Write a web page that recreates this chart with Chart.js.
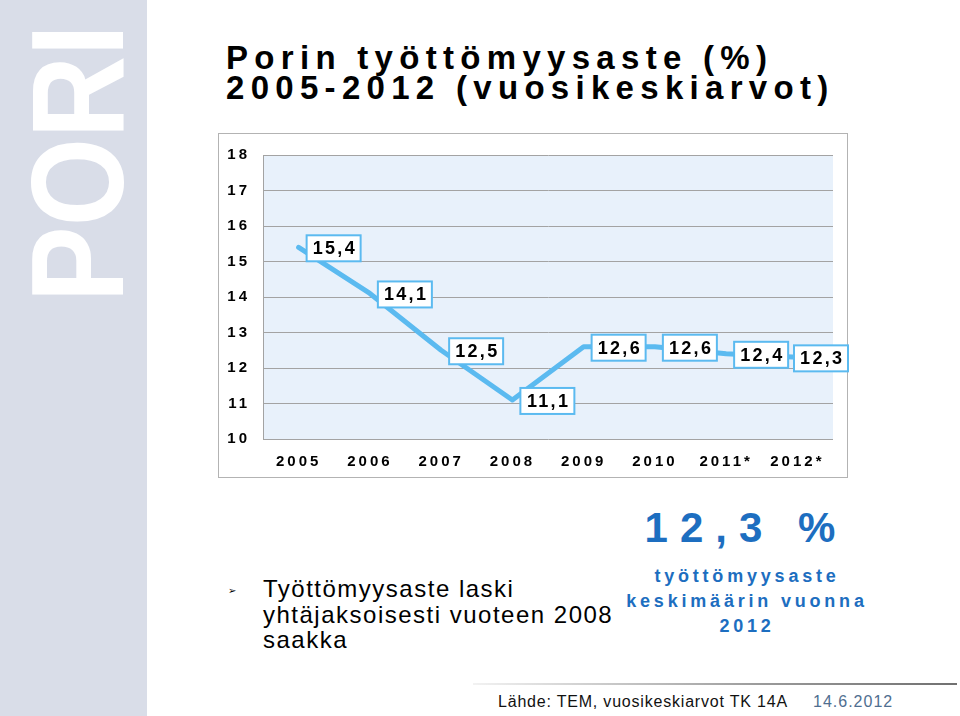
<!DOCTYPE html>
<html>
<head>
<meta charset="utf-8">
<script src="https://cdn.jsdelivr.net/npm/chart.js@4/dist/chart.umd.min.js"></script>
<style>
  html, body { margin:0; padding:0; background:#fff; }
  body { width:960px; height:716px; position:relative; overflow:hidden; font-family:"Liberation Sans", Arial, sans-serif; }
  #band { position:absolute; left:0; top:0; width:147px; height:716px; background:#d9dde8; }
  #pori { position:absolute; left:12px; top:302px; transform-origin:0 0; transform:rotate(-90deg) scaleX(0.86);
          font:bold 132px/132px "Liberation Sans", Arial, sans-serif; color:#fff; white-space:nowrap; }
  #title { position:absolute; left:226px; top:42.6px; font:bold 33px/30px "Liberation Sans", Arial, sans-serif;
           letter-spacing:6.3px; color:#000; white-space:nowrap; }
  #frame { position:absolute; left:218px; top:133px; width:630px; height:345px; box-sizing:border-box;
           border:1px solid #b3b3b3; background:#fff; }
  #chartWrap { position:absolute; left:218px; top:133px; width:631px; height:346px; }
  #bullet { position:absolute; left:228px; top:585px; font:10px "DejaVu Sans", sans-serif; color:#000; }
  #btext { position:absolute; left:263px; top:576px; font:24px/25.5px "Liberation Sans", Arial, sans-serif;
           letter-spacing:1.5px; color:#000; white-space:nowrap; }
  .blue { position:absolute; width:300px; left:597px; text-align:center; color:#1d6ec0; font-weight:bold;
          font-family:"Liberation Sans", Arial, sans-serif; white-space:nowrap; }
  #big { top:507px; font-size:42px; line-height:42px; letter-spacing:12px; left:596px; }
  .sub { font-size:18px; line-height:18px; letter-spacing:3.8px; }
  #rule { position:absolute; left:473px; top:683px; width:484px; height:2px;
          background:linear-gradient(to right, #f2f2f2, #9a9a9a 60%, #707070); }
  #src { position:absolute; left:498px; top:693.5px; font:16px/16px "Liberation Sans", Arial, sans-serif;
         letter-spacing:0.8px; color:#111; white-space:nowrap; }
  #date { position:absolute; left:813px; top:693.5px; font:16px/16px "Liberation Sans", Arial, sans-serif;
          letter-spacing:1px; color:#4f6e90; white-space:nowrap; }
</style>
</head>
<body>
<div id="band"></div>
<div id="pori">PORI</div>
<div id="title">Porin työttömyysaste (%)<br>2005-2012 (vuosikeskiarvot)</div>
<div id="frame"></div>
<div id="chartWrap"><canvas id="c" width="631" height="346"></canvas></div>
<div id="bullet">➢</div>
<div id="btext">Työttömyysaste laski<br>yhtäjaksoisesti vuoteen 2008<br>saakka</div>
<div class="blue" id="big">12,3 %</div>
<div class="blue sub" style="top:566.5px;">työttömyysaste</div>
<div class="blue sub" style="top:592px;">keskimäärin vuonna</div>
<div class="blue sub" style="top:616.5px;">2012</div>
<div id="rule"></div>
<div id="src">Lähde: TEM, vuosikeskiarvot TK 14A</div>
<div id="date">14.6.2012</div>
<script>
// ---- data ----
const years = ['2005', '2006', '2007', '2008', '2009', '2010', '2011*', '2012*'];
const rates = [15.4, 14.1, 12.5, 11.1, 12.6, 12.6, 12.4, 12.3];
const yMin = 10;
const yMax = 18;
const yStep = 1;

const LINE = '#5bbaf0';
const FONT = '"Liberation Sans", Arial, sans-serif';

const spacingPlugin = {
  id: 'spacing',
  beforeInit(chart) { chart.ctx.letterSpacing = '3px'; },
  beforeUpdate(chart) { chart.ctx.letterSpacing = '3px'; },
  beforeDraw(chart) {
    chart.ctx.letterSpacing = '3px';
    const a = chart.chartArea, ctx = chart.ctx;
    ctx.save();
    ctx.fillStyle = '#e8f1fb';
    ctx.fillRect(a.left, a.top, a.right - a.left, a.bottom - a.top);
    ctx.restore();
  }
};

const labelPlugin = {
  id: 'boxLabels',
  afterDatasetsDraw(chart) {
    const ctx = chart.ctx;
    const meta = chart.getDatasetMeta(0);
    const w = 54, h = 26;
    ctx.save();
    ctx.font = 'bold 18px ' + FONT;
    ctx.letterSpacing = '2.3px';
    ctx.textAlign = 'center';
    ctx.textBaseline = 'middle';
    meta.data.forEach((pt, i) => {
      let left = pt.x + 8;
      if (left + w > chart.width - 1) left = chart.width - 1 - w;
      const top = pt.y + 1 - h / 2;
      ctx.fillStyle = '#fff';
      ctx.fillRect(left, top, w, h);
      ctx.strokeStyle = LINE;
      ctx.lineWidth = 2;
      ctx.strokeRect(left, top, w, h);
      ctx.fillStyle = '#000';
      const txt = rates[i].toFixed(1).replace('.', ',');
      ctx.fillText(txt, left + w / 2 + 1.2, top + h / 2 + 1);
    });
    ctx.restore();
  }
};

new Chart(document.getElementById('c'), {
  type: 'line',
  data: {
    labels: years,
    datasets: [{
      data: rates,
      borderColor: LINE,
      borderWidth: 5,
      borderCapStyle: 'round',
      borderJoinStyle: 'round',
      pointRadius: 0,
      pointHoverRadius: 0,
      tension: 0,
      fill: false
    }]
  },
  options: {
    responsive: false,
    animation: false,
    events: [],
    layout: { padding: { top: 16, right: 16, left: 0, bottom: 0 } },
    plugins: { legend: { display: false }, tooltip: { enabled: false }, title: { display: false } },
    scales: {
      x: {
        offset: true,
        grid: { display: false, drawTicks: false },
        border: { display: false },
        ticks: { color: '#000', font: { family: FONT, size: 15, weight: 'bold' }, padding: 14, maxRotation: 0, autoSkip: false },
        afterFit(s) { s.height = 40; }
      },
      y: {
        min: yMin, max: yMax,
        grid: { color: '#a3a3a3', lineWidth: 1, drawTicks: false },
        border: { display: true, color: '#a3a3a3', width: 1 },
        ticks: { stepSize: yStep, color: '#000', font: { family: FONT, size: 15, weight: 'bold' }, padding: 13 },
        afterFit(s) { s.width = 45; }
      }
    }
  },
  plugins: [spacingPlugin, labelPlugin]
});
</script>
</body>
</html>
